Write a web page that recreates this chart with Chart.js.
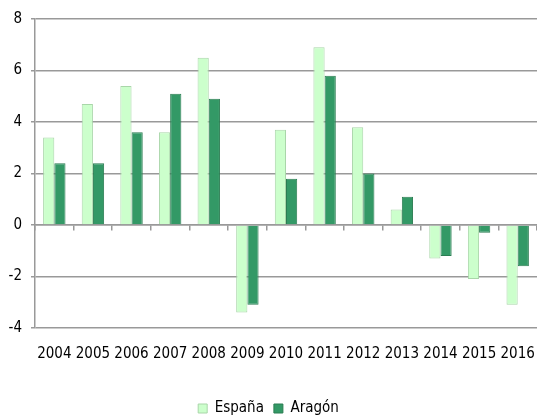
<!DOCTYPE html>
<html>
<head>
<meta charset="utf-8">
<script src="https://cdn.jsdelivr.net/npm/chart.js@4/dist/chart.umd.min.js"></script>
<style>
  html, body { margin: 0; padding: 0; background: #fff; }
  #wrap { width: 537px; height: 416px; }
</style>
</head>
<body>
<div id="wrap"><canvas id="myChart"></canvas></div>
<script>
// datos de la grafica
const years = ["2004", "2005", "2006", "2007", "2008", "2009", "2010", "2011", "2012", "2013", "2014", "2015", "2016"];
const espana = [3.4, 4.7, 5.4, 3.6, 6.5, -3.4, 3.7, 6.9, 3.8, 0.6, -1.3, -2.1, -3.1];
const aragon = [2.4, 2.4, 3.6, 5.1, 4.9, -3.1, 1.8, 5.8, 2.0, 1.1, -1.2, -0.3, -1.6];
const yTicks = [-4, -2, 0, 2, 4, 6, 8];

const fuente = "'Liberation Sans Narrow', 'DejaVu Sans Condensed', sans-serif";
const gris = "#999999";

new Chart("myChart", {
  type: "bar",
  data: {
    labels: years,
    datasets: [{
      label: "España",
      data: espana,
      backgroundColor: "#ccffcc",
      borderColor: "#a9d6a9",
      borderWidth: 1
    }, {
      label: "Aragón",
      data: aragon,
      backgroundColor: "#339966",
      borderColor: "#2b7d52",
      borderWidth: 1
    }]
  },
  options: {
    responsive: true,
    maintainAspectRatio: false,
    animation: false,
    layout: { padding: { top: 19, right: 0, left: 0, bottom: -10 } },
    datasets: {
      bar: { categoryPercentage: 0.58, barPercentage: 1.0 }
    },
    plugins: {
      tooltip: { enabled: false },
      legend: {
        position: "bottom",
        labels: {
          font: { family: fuente, size: 15 },
          color: "#000",
          boxWidth: 9,
          boxHeight: 9,
          padding: 10
        }
      }
    },
    scales: {
      x: {
        position: "bottom",
        grid: { display: false },
        border: { display: false },
        ticks: {
          font: { family: fuente, size: 15 },
          color: "#000",
          maxRotation: 0,
          autoSkip: false,
          padding: 9
        },
        afterFit: s => { s.paddingRight = 0; s.paddingLeft = 0; s.height += 19; }
      },
      xCero: {
        type: "category",
        labels: years,
        position: { y: 0 },
        offset: true,
        grid: {
          offset: true,
          drawOnChartArea: false,
          drawTicks: true,
          tickLength: 5,
          color: gris,
          lineWidth: 1.5
        },
        border: { display: true, color: gris, width: 1.5 },
        ticks: { display: false },
        afterFit: s => { s.paddingRight = 0; s.paddingLeft = 0; }
      },
      y: {
        min: -4,
        max: 8,
        afterBuildTicks: s => { s.ticks = yTicks.map(v => ({ value: v })); },
        afterFit: s => { s.width = 35; },
        grid: {
          color: gris,
          lineWidth: 1.5,
          tickLength: 4
        },
        border: { display: true, color: gris, width: 1.5 },
        ticks: {
          font: { family: fuente, size: 15 },
          color: "#000",
          padding: 9
        }
      }
    }
  }
});
</script>
</body>
</html>
